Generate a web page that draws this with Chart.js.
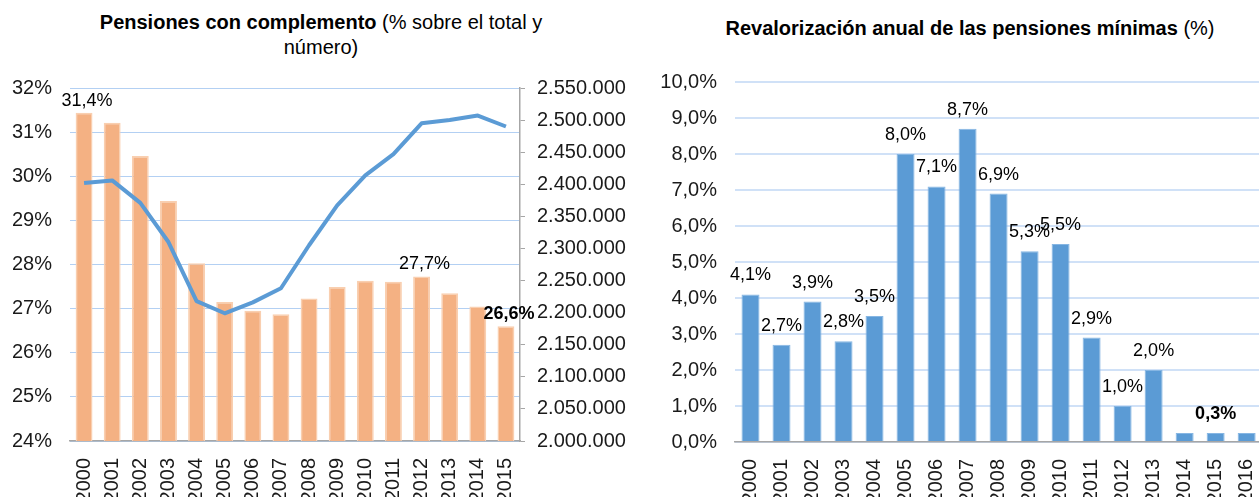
<!DOCTYPE html>
<html lang="es">

<head>
    <meta charset="UTF-8">
    <title>Pensiones mínimas</title>
    <style>
        html, body { margin: 0; padding: 0; overflow: hidden; background: #fff; }
        body { width: 1259px; height: 497px; position: relative; font-family: "Liberation Sans", Arial, sans-serif; color: #000; }
        .titulo { position: absolute; text-align: center; font-size: 20px; line-height: 25px; }
        #tituloIzq { left: 0; top: 10px; width: 642px; }
        #tituloDer { left: 640px; top: 16px; width: 660px; }
        canvas { position: absolute; top: 0; }
        #graficoIzq { left: 0; }
        #graficoDer { left: 640px; }
    </style>
</head>

<body>
    <div class="titulo" id="tituloIzq"><b>Pensiones con complemento</b> (% sobre el total y<br>número)</div>
    <div class="titulo" id="tituloDer"><b>Revalorización anual de las pensiones mínimas</b> (%)</div>
    <canvas id="graficoIzq" width="640" height="497"></canvas>
    <canvas id="graficoDer" width="640" height="497"></canvas>

    <script src="https://cdn.jsdelivr.net/npm/chart.js"></script>
    <script>
        // datos grafico izquierdo
        const anios = ['2000', '2001', '2002', '2003', '2004', '2005', '2006', '2007', '2008', '2009', '2010', '2011', '2012', '2013', '2014', '2015']
        const pctComplemento = [31.44, 31.21, 30.46, 29.44, 28.03, 27.15, 26.95, 26.87, 27.23, 27.49, 27.63, 27.61, 27.73, 27.35, 27.05, 26.6]
        const numComplemento = [2402000, 2406000, 2371000, 2310000, 2218000, 2199000, 2216000, 2238000, 2305000, 2367000, 2414000, 2447000, 2495000, 2500000, 2507000, 2490000]

        // datos grafico derecho
        const aniosRev = ['2000', '2001', '2002', '2003', '2004', '2005', '2006', '2007', '2008', '2009', '2010', '2011', '2012', '2013', '2014', '2015', '2016']
        const revalorizacion = [4.1, 2.7, 3.9, 2.8, 3.5, 8.0, 7.1, 8.7, 6.9, 5.3, 5.5, 2.9, 1.0, 2.0, 0.25, 0.25, 0.25]

        // que barras llevan etiqueta
        const etiquetasIzq = [0, 12, 15]
        const etiquetasDer = [0, 1, 2, 3, 4, 5, 6, 7, 8, 9, 10, 11, 12, 13, 15]
        const negritaIzq = [15]
        const negritaDer = [15]

        const fuente = '"Liberation Sans", Arial, sans-serif'
        Chart.defaults.font.family = fuente
        Chart.defaults.font.size = 20
        Chart.defaults.color = '#1a1a1a'

        const coma = (v, d) => v.toFixed(d).replace('.', ',')
        const miles = (v) => String(v).replace(/\B(?=(\d{3})+(?!\d))/g, '.')

        // pinta los valores encima de las barras
        const etiquetas = {
            id: 'etiquetas',
            afterDatasetsDraw(chart, args, opts) {
                const ctx = chart.ctx
                const meta = chart.getDatasetMeta(0)
                const valores = chart.data.datasets[0].data
                ctx.save()
                ctx.fillStyle = '#000'
                ctx.textAlign = 'center'
                ctx.textBaseline = 'middle'
                meta.data.forEach((barra, i) => {
                    if (!opts.mostrar.includes(i)) return
                    ctx.font = (opts.negrita.includes(i) ? 'bold ' : '') + '18px ' + fuente
                    ctx.fillText(coma(valores[i], 1) + '%', barra.x + opts.dx, barra.y - opts.dy)
                })
                ctx.restore()
            }
        }

        const ejeX = {
            grid: { display: false },
            border: { display: true, color: '#a6a6a6', width: 1.5 },
            ticks: { autoSkip: false, maxRotation: 90, minRotation: 90, padding: 9 },
            afterFit: (s) => { s.height = 56 }
        }

        new Chart(document.querySelector('#graficoIzq'), {
            type: 'bar',
            data: {
                labels: anios,
                datasets: [{
                    type: 'bar',
                    data: pctComplemento,
                    yAxisID: 'y',
                    backgroundColor: '#f4b183',
                    borderColor: '#f9cfb0',
                    borderWidth: 1.5,
                    barPercentage: 0.6,
                    categoryPercentage: 1,
                    order: 2
                }, {
                    type: 'line',
                    data: numComplemento,
                    yAxisID: 'y2',
                    borderColor: '#5b9bd5',
                    borderWidth: 4,
                    pointRadius: 0,
                    tension: 0,
                    borderJoinStyle: 'round',
                    order: 1
                }]
            },
            options: {
                responsive: false,
                animation: false,
                layout: { padding: { top: 88, left: 0, right: 0, bottom: 0 } },
                plugins: {
                    legend: { display: false },
                    tooltip: { enabled: false },
                    etiquetas: { mostrar: etiquetasIzq, negrita: negritaIzq, dx: 3, dy: 12 }
                },
                scales: {
                    x: ejeX,
                    y: {
                        position: 'left',
                        min: 24,
                        max: 32,
                        ticks: { stepSize: 1, padding: 18, callback: (v) => v + '%' },
                        grid: { color: '#b3d0f3', lineWidth: 1, drawTicks: false },
                        border: { display: false },
                        afterFit: (s) => { s.width = 70 }
                    },
                    y2: {
                        position: 'right',
                        min: 2000000,
                        max: 2550000,
                        ticks: { stepSize: 50000, maxTicksLimit: 20, padding: 12, callback: (v) => miles(v) },
                        grid: { drawOnChartArea: false, color: '#a6a6a6', tickLength: 5 },
                        border: { display: true, color: '#a6a6a6', width: 1.5 },
                        afterFit: (s) => { s.width = 120 }
                    }
                }
            },
            plugins: [etiquetas]
        })

        new Chart(document.querySelector('#graficoDer'), {
            type: 'bar',
            data: {
                labels: aniosRev,
                datasets: [{
                    data: revalorizacion,
                    backgroundColor: '#5b9bd5',
                    borderColor: '#86b6e3',
                    borderWidth: 1,
                    barPercentage: 0.58,
                    categoryPercentage: 1
                }]
            },
            options: {
                responsive: false,
                animation: false,
                layout: { padding: { top: 82, left: 0, right: 12, bottom: 0 } },
                plugins: {
                    legend: { display: false },
                    tooltip: { enabled: false },
                    etiquetas: { mostrar: etiquetasDer, negrita: negritaDer, dx: 0, dy: 19 }
                },
                scales: {
                    x: Object.assign({}, ejeX, { afterFit: (s) => { s.height = 55 } }),
                    y: {
                        min: 0,
                        max: 10,
                        ticks: { stepSize: 1, maxTicksLimit: 20, padding: 18, callback: (v) => coma(v, 1) + '%' },
                        grid: { color: '#d0e1f7', lineWidth: 2, drawTicks: false },
                        border: { display: false },
                        afterFit: (s) => { s.width = 95 }
                    }
                }
            },
            plugins: [etiquetas]
        })
    </script>
</body>

</html>
